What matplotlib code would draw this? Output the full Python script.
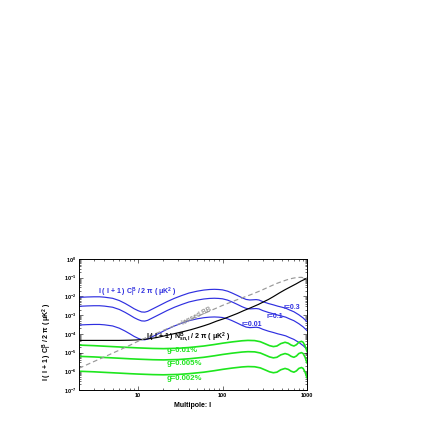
import numpy as np
import matplotlib
matplotlib.use("Agg")
import matplotlib.pyplot as plt
from matplotlib.ticker import LogLocator, NullFormatter, FixedLocator, FixedFormatter

plt.rcParams['font.family'] = ['Liberation Sans', 'DejaVu Sans']
plt.rcParams['font.weight'] = 'bold'
plt.rcParams['mathtext.fontset'] = 'custom'
plt.rcParams['mathtext.rm'] = 'Liberation Sans:bold'
plt.rcParams['mathtext.it'] = 'Liberation Sans:bold'
plt.rcParams['mathtext.bf'] = 'Liberation Sans:bold'

# tensor BB for r=0.3 (log10 uK^2)
ell_bb = [2, 2.5, 3, 3.5, 4, 5, 6, 7, 8, 9, 10, 11, 12, 13, 15, 18, 22, 27, 33, 40,
          50, 60, 70, 80, 90, 100, 115, 130, 150, 170, 190, 210, 230, 250, 270, 300,
          350, 400, 450, 500, 560, 620, 700, 800, 900, 1000]
log_bb03 = [-2.05, -2.03, -2.02, -2.02, -2.04, -2.10, -2.22, -2.37, -2.52, -2.66, -2.76,
            -2.83, -2.84, -2.80, -2.66, -2.48, -2.28, -2.10, -1.95, -1.82, -1.72, -1.66,
            -1.63, -1.62, -1.63, -1.65, -1.72, -1.82, -1.95, -2.07, -2.16, -2.19, -2.18,
            -2.17, -2.19, -2.28, -2.38, -2.45, -2.52, -2.57, -2.63, -2.72, -2.82, -2.98,
            -3.15, -3.35]
r_values = [0.3, 0.1, 0.01]
r_labels = ['r=0.3', 'r=0.1', 'r=0.01']
r_label_pos = [(521, -2.58), (330, -3.08), (170, -3.50)]

# noise spectrum l(l+1)N_l/2pi
ell_noise = [2, 4, 6, 8, 10, 12, 14, 17, 20, 25, 30, 35, 42, 50, 60, 70, 85, 107, 130,
             150, 180, 212, 265, 300, 350, 400, 477, 550, 661, 750, 850, 1000]
log_noise = [-4.35, -4.35, -4.35, -4.34, -4.32, -4.29, -4.25, -4.19, -4.12, -4.02, -3.94,
             -3.87, -3.78, -3.68, -3.57, -3.47, -3.32, -3.17, -3.02, -2.91, -2.75, -2.62,
             -2.43, -2.31, -2.16, -2.01, -1.80, -1.64, -1.45, -1.32, -1.18, -1.03]

# lensed BB
ell_lens = [2, 3, 4, 6, 8, 10.7, 15, 20, 30, 40, 60, 100, 150, 212, 280, 350, 430, 500,
            580, 661, 750, 850, 1000]
log_lens = [-5.84, -5.48, -5.23, -4.87, -4.61, -4.33, -4.05, -3.81, -3.48, -3.25, -2.92,
            -2.48, -2.17, -1.92, -1.70, -1.50, -1.32, -1.21, -1.11, -1.04, -0.99, -0.98,
            -1.03]

# leakage for g=0.01%
ell_g = [2, 3, 4, 6, 8, 10, 15, 20, 30, 40, 60, 80, 100, 130, 170, 200, 240, 280, 320,
         360, 400, 440, 490, 550, 600, 650, 700, 750, 800, 860, 900, 950, 1000]
log_g001 = [-4.60, -4.63, -4.66, -4.70, -4.73, -4.75, -4.78, -4.79, -4.77, -4.73, -4.65,
            -4.57, -4.50, -4.43, -4.37, -4.35, -4.36, -4.42, -4.53, -4.63, -4.68, -4.65,
            -4.52, -4.45, -4.50, -4.60, -4.65, -4.58, -4.45, -4.40, -4.45, -4.65, -4.95]
g_values = [0.01, 0.005, 0.002]
g_labels = ['g=0.01%', 'g=0.005%', 'g=0.002%']
g_label_y = [-4.90, -5.60, -6.40]

blue = '#2f2fe0'
green = '#1ee61e'

fig = plt.figure(figsize=(4.36, 4.36), dpi=100)
ax = fig.add_axes([79/436, 1 - 390/436, 228/436, 131/436])

for r in r_values:
    ax.plot(ell_bb, 10**np.array(log_bb03) * r / 0.3, color=blue, lw=0.85)
for g in g_values:
    ax.plot(ell_g, 10**np.array(log_g001) * (g / 0.01)**2, color=green, lw=1.2)
ax.plot(ell_noise, 10**np.array(log_noise), color='black', lw=0.85)
ax.plot(ell_lens, 10**np.array(log_lens), color='#999999', lw=0.85, dashes=(4, 2.5))

ax.set_xscale('log')
ax.set_yscale('log')
ax.set_xlim(2, 1000)
ax.set_ylim(1e-7, 1)

ax.xaxis.set_major_locator(FixedLocator([10, 100, 1000]))
ax.xaxis.set_major_formatter(FixedFormatter(['10', '100', '1000']))
ax.xaxis.set_minor_locator(LogLocator(base=10, subs=np.arange(2, 10), numticks=20))
ax.xaxis.set_minor_formatter(NullFormatter())
ax.yaxis.set_major_locator(LogLocator(base=10, numticks=20))
ax.yaxis.set_minor_locator(LogLocator(base=10, subs=np.arange(2, 10), numticks=20))
ax.yaxis.set_minor_formatter(NullFormatter())
ax.tick_params(which='both', direction='in', top=True, right=True, width=0.4,
               labelsize=4.0, pad=2)
ax.tick_params(which='major', length=3)
ax.tick_params(which='minor', length=1.5)
for s in ax.spines.values():
    s.set_linewidth(0.7)

ax.set_xlabel('Multipole: l', fontsize=5.0, fontweight='bold', labelpad=3)
ax.set_ylabel(r'l ( l + 1 ) C$_{l}^{B}$ / 2 π ( μK$^{2}$ )', fontsize=5.0,
              fontweight='bold')
ax.yaxis.set_label_coords(-0.11, 0.37)

ax.text(3.36, 10**-1.80, r'l ( l + 1 ) C$_{l}^{B}$ / 2 π ( μK$^{2}$ )', color=blue,
        fontsize=5.0, fontweight='bold', va='center', ha='left')
ax.text(12.5, 10**-4.18, r'l ( l + 1 ) N$_{sn,l}^{B}$ / 2 π ( μK$^{2}$ )', color='black',
        fontsize=5.0, fontweight='bold', va='center', ha='left')
ax.text(50, 10**-3.05, 'lensed BB', color='#999999', fontsize=4.8, fontweight='bold',
        rotation=27, ha='center', va='center')
for lab, (xl, yl) in zip(r_labels, r_label_pos):
    ax.text(xl, 10**yl, lab, color=blue, fontsize=5.0, fontweight='bold',
            va='center', ha='left')
for lab, yl in zip(g_labels, g_label_y):
    ax.text(22, 10**yl, lab, color=green, fontsize=5.6, fontweight='bold',
            va='center', ha='left')

fig.savefig('out.png', dpi=100)
